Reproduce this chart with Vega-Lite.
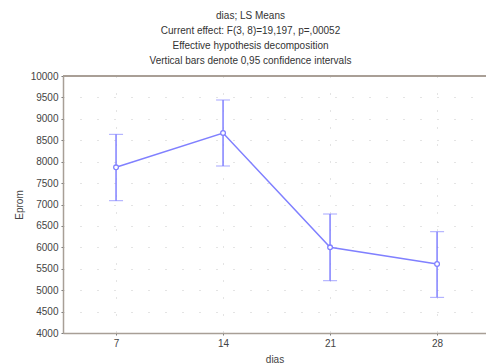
{
  "$schema": "https://vega.github.io/schema/vega-lite/v6.json",
  "autosize": "none",
  "width": 423,
  "height": 257,
  "padding": {"left": 63, "top": 76, "right": 0, "bottom": 31},
  "background": "white",
  "title": {
    "text": ["dias; LS Means", "Current effect: F(3, 8)=19,197, p=,00052", "Effective hypothesis decomposition", "Vertical bars denote 0,95 confidence intervals"],
    "font": "Liberation Sans",
    "fontSize": 10,
    "fontWeight": "normal",
    "color": "#333333",
    "lineHeight": 15,
    "anchor": "middle",
    "frame": "group",
    "dx": -24,
    "offset": 5
  },
  "data": {
    "values": [
      {"dias": 7, "mean": 7868, "lo": 7089, "hi": 8638},
      {"dias": 14, "mean": 8669, "lo": 7899, "hi": 9440},
      {"dias": 21, "mean": 6000, "lo": 5221, "hi": 6778},
      {"dias": 28, "mean": 5611, "lo": 4832, "hi": 6365}
    ]
  },
  "config": {
    "view": {"stroke": null},
    "axis": {
      "labelFont": "Liberation Sans",
      "titleFont": "Liberation Sans",
      "labelFontSize": 10,
      "titleFontSize": 10,
      "titleFontWeight": "normal",
      "labelColor": "#444444",
      "titleColor": "#444444",
      "domainColor": "#a89f96",
      "domainWidth": 1.5,
      "tickColor": "#777777",
      "tickSize": 2,
      "gridColor": "#c8c8c8",
      "gridDash": [1, 16],
      "labelOverlap": false
    }
  },
  "encoding": {
    "x": {
      "field": "dias", "type": "quantitative", "title": "dias",
      "scale": {"domain": [3.53, 31.2], "nice": false, "zero": false},
      "axis": {"values": [7, 14, 21, 28], "labelPadding": 3, "titlePadding": 6, "grid": true}
    }
  },
  "layer": [
    {
      "mark": {"type": "rule", "color": "#a89f96", "strokeWidth": 1.5},
      "encoding": {"x": null, "y": {"datum": 10000, "type": "quantitative", "title": "Eprom", "scale": {"domain": [4000, 10000], "nice": false, "zero": false}, "axis": {"values": [4000, 4500, 5000, 5500, 6000, 6500, 7000, 7500, 8000, 8500, 9000, 9500, 10000], "format": "d", "labelPadding": 3, "titlePadding": 6, "grid": true}}}
    },
    {
      "mark": {"type": "errorbar", "ticks": {"size": 14, "color": "#8080ff", "strokeWidth": 1.5}, "rule": {"color": "#8080ff", "strokeWidth": 1.5}},
      "encoding": {
        "y": {"field": "lo", "type": "quantitative", "title": "Eprom", "scale": {"domain": [4000, 10000], "nice": false, "zero": false}, "axis": {"values": [4000, 4500, 5000, 5500, 6000, 6500, 7000, 7500, 8000, 8500, 9000, 9500, 10000], "format": "d", "labelPadding": 3, "titlePadding": 6, "grid": true}},
        "y2": {"field": "hi"}
      }
    },
    {
      "mark": {"type": "line", "color": "#8080ff", "strokeWidth": 1.5, "point": {"filled": false, "fill": "white", "stroke": "#8080ff", "size": 22, "strokeWidth": 1.3}},
      "encoding": {
        "y": {
          "field": "mean", "type": "quantitative", "title": "Eprom",
          "scale": {"domain": [4000, 10000], "nice": false, "zero": false},
          "axis": {"values": [4000, 4500, 5000, 5500, 6000, 6500, 7000, 7500, 8000, 8500, 9000, 9500, 10000], "format": "d", "labelPadding": 3, "titlePadding": 6, "grid": true}
        }
      }
    }
  ]
}
